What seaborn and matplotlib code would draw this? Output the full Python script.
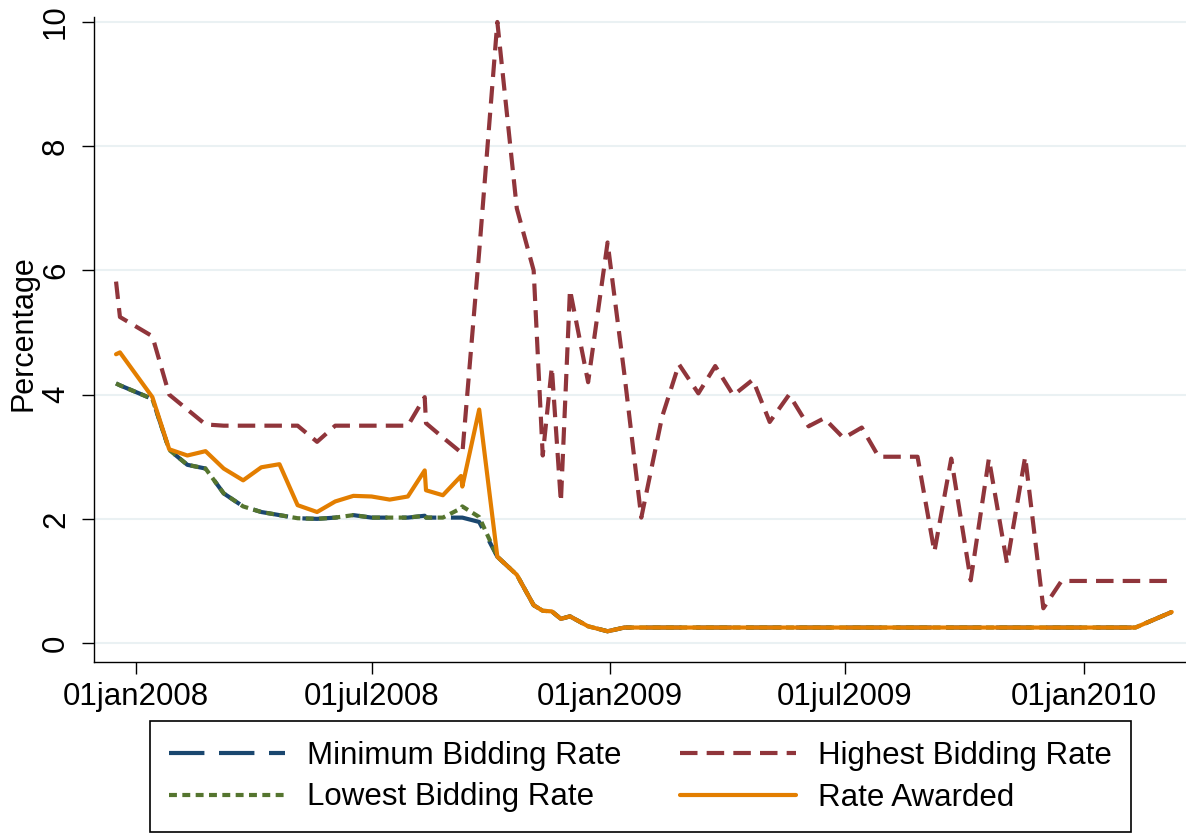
import matplotlib
matplotlib.use('Agg')
import matplotlib.pyplot as plt
import seaborn as sns
import pandas as pd

# auction dates
dates = [
    '2007-12-17', '2007-12-20', '2008-01-14', '2008-01-27', '2008-02-10',
    '2008-02-24', '2008-03-09', '2008-03-24', '2008-04-07', '2008-04-21',
    '2008-05-05', '2008-05-20', '2008-06-03', '2008-06-17', '2008-07-01',
    '2008-07-15', '2008-07-29', '2008-08-11', '2008-08-12', '2008-08-25',
    '2008-09-08', '2008-09-09', '2008-09-22', '2008-10-06', '2008-10-21',
    '2008-11-03', '2008-11-10', '2008-11-17', '2008-11-24', '2008-12-01',
    '2008-12-15', '2008-12-30', '2009-01-12', '2009-01-25', '2009-02-10',
    '2009-02-23', '2009-03-10', '2009-03-23', '2009-04-06', '2009-04-21',
    '2009-05-04', '2009-05-19', '2009-06-03', '2009-06-15', '2009-06-30',
    '2009-07-14', '2009-07-27', '2009-08-26', '2009-09-08', '2009-09-21',
    '2009-10-06', '2009-10-20', '2009-11-03', '2009-11-17', '2009-12-01',
    '2009-12-15', '2010-02-10', '2010-03-10',
]

minimum_rate = [
    4.18, 4.15, 3.93, 3.11, 2.87, 2.81, 2.41, 2.20, 2.11, 2.06,
    2.01, 2.00, 2.02, 2.06, 2.02, 2.02, 2.02, 2.05, 2.02, 2.02,
    2.02, 2.02, 1.95, 1.39, 1.10, 0.61, 0.52, 0.51, 0.39, 0.43,
    0.27, 0.19, 0.25, 0.25, 0.25, 0.25, 0.25, 0.25, 0.25, 0.25,
    0.25, 0.25, 0.25, 0.25, 0.25, 0.25, 0.25, 0.25, 0.25, 0.25,
    0.25, 0.25, 0.25, 0.25, 0.25, 0.25, 0.25, 0.50,
]

lowest_rate = [
    4.18, 4.15, 3.93, 3.11, 2.87, 2.81, 2.41, 2.20, 2.11, 2.06,
    2.01, 2.00, 2.02, 2.06, 2.02, 2.02, 2.02, 2.05, 2.02, 2.02,
    2.17, 2.20, 2.03, 1.39, 1.10, 0.61, 0.52, 0.51, 0.39, 0.43,
    0.27, 0.19, 0.25, 0.25, 0.25, 0.25, 0.25, 0.25, 0.25, 0.25,
    0.25, 0.25, 0.25, 0.25, 0.25, 0.25, 0.25, 0.25, 0.25, 0.25,
    0.25, 0.25, 0.25, 0.25, 0.25, 0.25, 0.25, 0.50,
]

highest_rate = [
    5.82, 5.25, 4.94, 4.00, 3.76, 3.52, 3.50, 3.50, 3.50, 3.50,
    3.50, 3.24, 3.50, 3.50, 3.50, 3.50, 3.50, 3.96, 3.54, 3.31,
    3.07, 3.05, 6.30, 10.0, 7.00, 6.00, 3.02, 4.44, 2.27, 5.69,
    4.20, 6.45, 4.32, 2.02, 3.64, 4.49, 4.02, 4.46, 3.99, 4.24,
    3.56, 4.00, 3.49, 3.62, 3.30, 3.47, 3.00, 3.00, 1.47, 2.97,
    1.01, 2.97, 1.28, 3.00, 0.56, 1.00, 1.00, 1.00,
]

rate_awarded = [
    4.65, 4.68, 3.96, 3.12, 3.02, 3.09, 2.81, 2.62, 2.83, 2.88,
    2.22, 2.11, 2.28, 2.37, 2.36, 2.31, 2.36, 2.78, 2.46, 2.38,
    2.69, 2.52, 3.76, 1.39, 1.10, 0.61, 0.52, 0.51, 0.39, 0.43,
    0.27, 0.19, 0.25, 0.25, 0.25, 0.25, 0.25, 0.25, 0.25, 0.25,
    0.25, 0.25, 0.25, 0.25, 0.25, 0.25, 0.25, 0.25, 0.25, 0.25,
    0.25, 0.25, 0.25, 0.25, 0.25, 0.25, 0.25, 0.50,
]

tick_dates = ['2008-01-01', '2008-07-01', '2009-01-01', '2009-07-01', '2010-01-01']
tick_labels = ['01jan2008', '01jul2008', '01jan2009', '01jul2009', '01jan2010']

frame = pd.DataFrame({
    'date': pd.to_datetime(dates),
    'minimum': minimum_rate,
    'highest': highest_rate,
    'lowest': lowest_rate,
    'awarded': rate_awarded,
})

sns.set_style('white')
plt.rcParams['font.family'] = ['Liberation Sans', 'DejaVu Sans']
plt.rcParams['text.color'] = 'black'
plt.rcParams['axes.labelcolor'] = 'black'
plt.rcParams['xtick.color'] = 'black'
plt.rcParams['ytick.color'] = 'black'

fig = plt.figure(figsize=(11.86, 8.35), dpi=100)
ax = fig.add_axes([94 / 1186, 1 - 661.7 / 835, 1 - 94 / 1186, (661.7 - 17) / 835])

series = [
    ('minimum', 'Minimum Bidding Rate', '#1a476f', (0, (8.5, 3.5))),
    ('highest', 'Highest Bidding Rate', '#90353b', (0, (4.2, 2.2))),
    ('lowest', 'Lowest Bidding Rate', '#55752f', (0, (1.9, 1.3))),
    ('awarded', 'Rate Awarded', '#e37e00', '-'),
]

for col, label, color, ls in series:
    sns.lineplot(data=frame, x='date', y=col, ax=ax, color=color,
                 linewidth=3, linestyle=ls, errorbar=None, legend=False)

ax.set_xlim(pd.Timestamp('2007-11-30'), pd.Timestamp('2010-03-21'))
ax.set_ylim(-0.3, 10.08)
ax.set_xticks(pd.to_datetime(tick_dates))
ax.set_xticklabels(tick_labels)
ax.set_yticks([0, 2, 4, 6, 8, 10])
ax.set_yticklabels(['0', '2', '4', '6', '8', '10'], rotation=90, va='center')

ax.grid(axis='y', color='#eaf1f3', linewidth=1.5)
ax.grid(axis='x', visible=False)
ax.set_axisbelow(True)

ax.tick_params(bottom=True, left=True, direction='out', length=8.5,
               width=1, colors='black', labelsize=22.5)
ax.tick_params(axis='x', pad=6)
ax.tick_params(axis='y', pad=8)
for side in ['top', 'right']:
    ax.spines[side].set_visible(False)
for side in ['left', 'bottom']:
    ax.spines[side].set_color('black')
    ax.spines[side].set_linewidth(1)

ax.set_xlabel('')
ax.set_ylabel('Percentage', fontsize=22, color='black')
ax.yaxis.set_label_coords(-0.051, 0.51)

lines = ax.get_lines()
handles = [lines[0], lines[2], lines[1], lines[3]]
labels = [series[0][1], series[2][1], series[1][1], series[3][1]]
leg = fig.legend(handles, labels, ncol=2, loc='lower center',
                 bbox_to_anchor=(0.54, 0.0), frameon=True, fancybox=False,
                 edgecolor='black', framealpha=1, fontsize=22.5,
                 handlelength=3.7, handletextpad=0.7, columnspacing=1.9,
                 labelspacing=0.38, borderpad=0.62, borderaxespad=0.1,
                 labelcolor='black')
leg.get_frame().set_linewidth(1.2)

fig.savefig('out.png', dpi=100)
